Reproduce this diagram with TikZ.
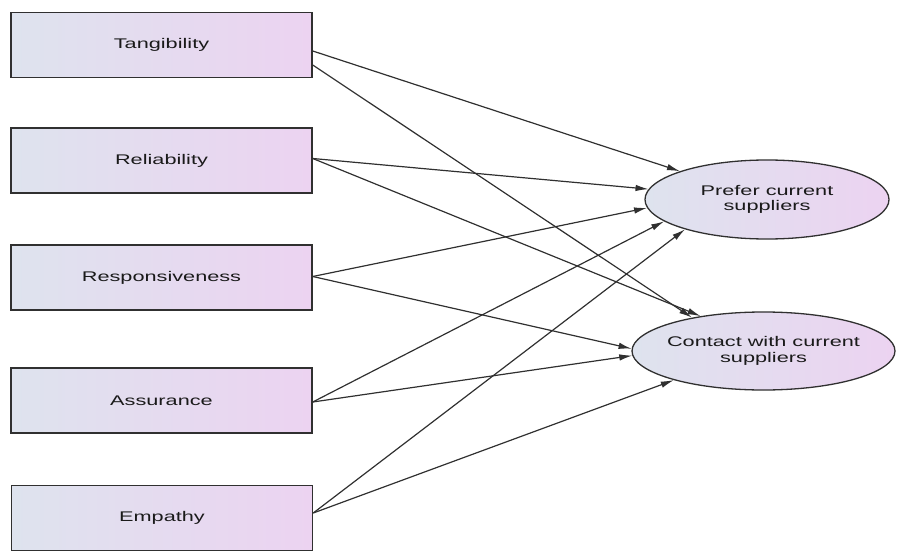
\documentclass[tikz,border=0pt]{standalone}
\usepackage{fontspec}
\setmainfont{Liberation Sans}
\usepackage{graphicx}
\usetikzlibrary{arrows.meta,calc,shapes.geometric}
\definecolor{fillL}{HTML}{DEE3EE}
\definecolor{fillR}{HTML}{ECD3F1}
\definecolor{edgecol}{HTML}{303030}
\definecolor{txtcol}{HTML}{1A1A1A}
\newcommand{\wtxt}[1]{\scalebox{1.55}[1]{#1}}
\tikzset{
  factor/.style={draw=edgecol, line width=1.5pt, rectangle, minimum width=301pt, minimum height=65pt,
    left color=fillL, right color=fillR, text=txtcol, font=\fontsize{14}{16}\selectfont, inner sep=0pt},
  outcome/.style={draw=edgecol, line width=1.3pt, ellipse, inner sep=0pt,
    left color=fillL, right color=fillR},
  outtext/.style={text=txtcol, font=\fontsize{14}{15.5}\selectfont, align=center, inner sep=0pt},
  link/.style={draw=edgecol, line width=1.2pt, -{Latex[length=13pt,width=6.5pt]}}
}
\begin{document}
\begin{tikzpicture}[x=1pt,y=-1pt]
\useasboundingbox (0,0) rectangle (897,551);
\node[factor] (tan) at (161.5,45) {\wtxt{Tangibility}};
\node[factor] (rel) at (161.5,160.5) {\wtxt{Reliability}};
\node[factor] (resp) at (161.5,277.5) {\wtxt{Responsiveness}};
\node[factor] (ass) at (161.5,400.5) {\wtxt{Assurance}};
\node[factor] (emp) at (162,518) {\wtxt{Empathy}};
\node[outcome, minimum width=244pt, minimum height=79pt] (pref) at (767,199.5) {};
\node[outtext] (preft) at (pref.center) {\wtxt{Prefer current}\\\wtxt{suppliers}};
\node[outcome, minimum width=263pt, minimum height=78pt] (cont) at (763.5,351) {};
\node[outtext] (contt) at (cont.center) {\wtxt{Contact with current}\\\wtxt{suppliers}};
% connectors
\draw[link] ($(tan.east)+(0,6)$) -- (pref.162);
\draw[link] ($(tan.east)+(0,20)$) -- (cont.155);
\draw[link] ($(rel.east)+(0,-2)$) -- (pref.175);
\draw[link] ($(rel.east)+(0,-2)$) -- (cont.151);
\draw[link] ($(resp.east)+(0,-1)$) -- (pref.184.5);
\draw[link] ($(resp.east)+(0,-1)$) -- (cont.179);
\draw[link] ($(ass.east)+(0,1.5)$) -- (pref.192.5);
\draw[link] ($(ass.east)+(0,1.5)$) -- (cont.182.5);
\draw[link] ($(emp.east)+(0,-5)$) -- (pref.200);
\draw[link] ($(emp.east)+(0,-5)$) -- (cont.198);
\end{tikzpicture}
\end{document}
